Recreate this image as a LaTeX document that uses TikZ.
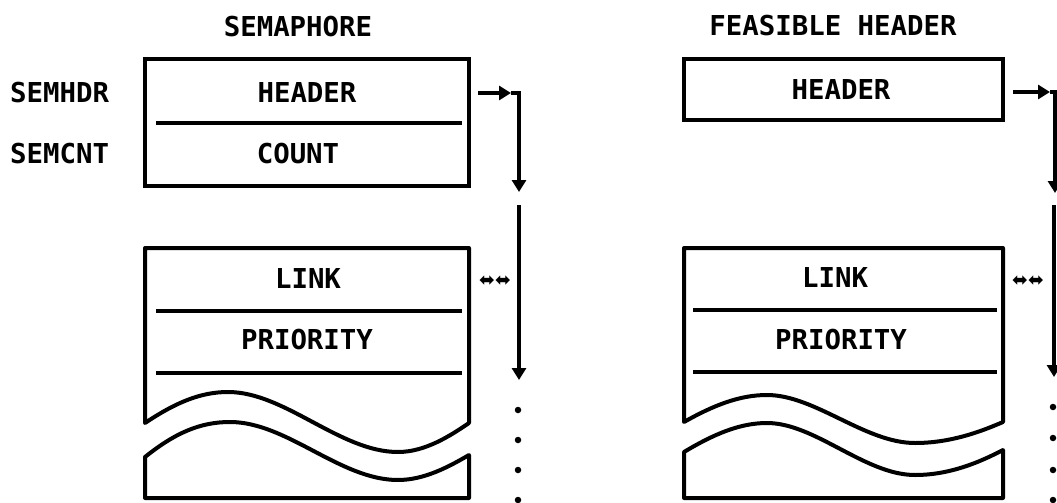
\documentclass[tikz,border=0pt]{standalone}
\usepackage{fontspec}
\usetikzlibrary{arrows.meta}
\newfontfamily\lblfont{DejaVu Sans Mono}
\newfontfamily\symfont{DejaVu Sans}
\begin{document}
\begin{tikzpicture}[x=1pt,y=-1pt,
  lbl/.style={font=\lblfont\bfseries\fontsize{27.4}{30}\selectfont, inner sep=0pt},
  box/.style={draw, line width=4pt, inner sep=0pt},
  divline/.style={line width=3.5pt},
  wave/.style={line width=4pt, line join=round},
  conn/.style={line width=3.5pt, -{Triangle[length=12pt,width=14pt]}},
  dotm/.style={fill, circle, inner sep=0pt, minimum size=6.5pt},
  linkmark/.style={font=\symfont\fontsize{19}{22}\selectfont, inner sep=0pt}]
\useasboundingbox (0,0) rectangle (1057,503);

% ---------- titles ----------
\node[lbl] (tSem) at (298,27) {SEMAPHORE};
\node[lbl] (tFea) at (833,26) {FEASIBLE HEADER};

% ---------- left upper box ----------
\node[box, minimum width=324pt, minimum height=127pt] (semL) at (307,122.5) {};
\draw[divline] (156,123) -- (462,123);
\node[lbl] (hdrL) at (307,93) {HEADER};
\node[lbl] (cntL) at (298,154) {COUNT};
\node[lbl, anchor=west] (semhdr) at (10,93) {SEMHDR};
\node[lbl, anchor=west] (semcnt) at (10,154) {SEMCNT};

% ---------- right upper box ----------
\node[box, minimum width=319pt, minimum height=61pt] (hdrBoxR) at (843.5,89.5) {};
\node[lbl] (hdrR) at (841,90) {HEADER};

% ---------- left lower (cut) box ----------
\draw[wave] (145,423) .. controls (175,403) and (200,392) .. (228,392)
  .. controls (285,392) and (340,452) .. (398,452)
  .. controls (425,452) and (450,436) .. (469,423)
  -- (469,248) -- (145,248) -- cycle;
\draw[wave] (145,457) .. controls (175,433) and (200,422) .. (230,422)
  .. controls (287,422) and (340,480) .. (398,480)
  .. controls (425,480) and (450,466) .. (469,455)
  -- (469,498) -- (145,498) -- cycle;
\draw[divline] (156,311) -- (462,311);
\draw[divline] (156,373) -- (462,373);
\node[lbl] (linkL) at (308,279) {LINK};
\node[lbl] (prioL) at (307,340) {PRIORITY};
\node[linkmark] (mkL) at (495,281) {⬌⬌};

% ---------- right lower (cut) box ----------
\draw[wave] (684,422) .. controls (714,405) and (740,395) .. (767,395)
  .. controls (815,395) and (865,443) .. (915,443)
  .. controls (950,443) and (980,432) .. (1003,422)
  -- (1003,248) -- (684,248) -- cycle;
\draw[wave] (684,452) .. controls (714,434) and (740,423) .. (767,423)
  .. controls (815,423) and (865,475) .. (915,475)
  .. controls (950,475) and (980,462) .. (1003,450)
  -- (1003,498) -- (684,498) -- cycle;
\draw[divline] (693,310) -- (997,310);
\draw[divline] (693,372) -- (997,372);
\node[lbl] (linkR) at (835,278) {LINK};
\node[lbl] (prioR) at (841,340) {PRIORITY};
\node[linkmark] (mkR) at (1028,281) {⬌⬌};

% ---------- left connectors ----------
\coordinate (aL0) at (478,93);
\coordinate (aLm) at (511,93);
\coordinate (aLc) at (519,93);
\coordinate (aLt) at (519,192);
\coordinate (bL0) at (519,205);
\coordinate (bLt) at (519,380);
\draw[conn] (aL0) -- (aLm);
\draw[conn] (aLm) -- (aLc) -- (aLt);
\draw[conn] (bL0) -- (bLt);
\node[dotm] (dL1) at (518,410) {};
\node[dotm] (dL2) at (518,440) {};
\node[dotm] (dL3) at (518,470) {};
\node[dotm] (dL4) at (518,500) {};

% ---------- right connectors ----------
\coordinate (aR0) at (1013,92);
\coordinate (aRm) at (1050,92);
\coordinate (aRc) at (1055,92);
\coordinate (aRt) at (1055,193);
\coordinate (bR0) at (1054,205);
\coordinate (bRt) at (1054,377);
\draw[conn] (aR0) -- (aRm);
\draw[conn] (aRm) -- (aRc) -- (aRt);
\draw[conn] (bR0) -- (bRt);
\node[dotm] (dR1) at (1053,407) {};
\node[dotm] (dR2) at (1053,438) {};
\node[dotm] (dR3) at (1053,470) {};
\node[dotm] (dR4) at (1053,500) {};
\end{tikzpicture}
\end{document}
